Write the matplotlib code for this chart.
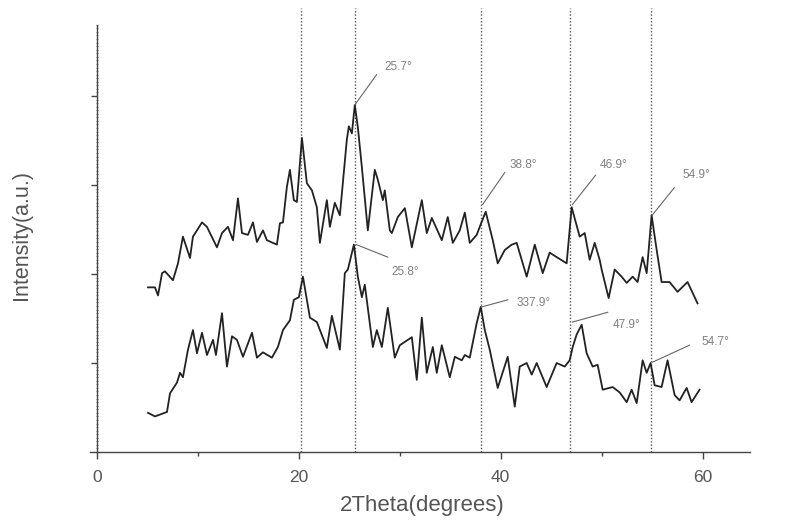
import matplotlib
matplotlib.use("Agg")
import matplotlib.pyplot as plt
import numpy as np
from matplotlib.ticker import MultipleLocator, FixedLocator

# upper pattern
top_x = [5.05, 5.74, 6.04, 6.44, 6.73, 7.52, 8.02, 8.51, 9.21, 9.50, 9.90, 10.40, 10.89,
         11.88, 12.38, 12.97, 13.47, 13.96, 14.36, 14.95, 15.45, 15.84, 16.44, 16.83,
         17.82, 18.12, 18.42, 18.81, 19.11, 19.50, 19.80, 20.30, 20.79, 21.29, 21.78,
         22.08, 22.77, 23.07, 23.56, 24.06, 24.75, 24.95, 25.25, 25.54, 25.84, 26.24,
         26.83, 27.52, 27.82, 28.32, 28.51, 29.01, 29.21, 29.80, 30.50, 31.19, 32.18,
         32.67, 33.17, 34.16, 34.75, 35.25, 35.94, 36.44, 36.93, 37.62, 37.92, 38.51,
         39.21, 39.70, 40.40, 41.09, 41.58, 42.57, 43.37, 44.16, 44.85, 45.54, 46.53,
         47.03, 47.82, 48.32, 48.81, 49.31, 49.80, 50.00, 50.69, 51.29, 51.98, 52.48,
         53.07, 53.56, 54.06, 54.46, 54.95, 55.45, 55.94, 56.73, 57.52, 58.51, 59.50]
top_y = [1.85, 1.85, 1.76, 2.01, 2.03, 1.93, 2.12, 2.42, 2.18, 2.42, 2.49, 2.58, 2.53,
         2.30, 2.46, 2.53, 2.38, 2.85, 2.46, 2.44, 2.58, 2.36, 2.49, 2.38,
         2.33, 2.57, 2.58, 2.98, 3.17, 2.83, 2.81, 3.53, 3.02, 2.94, 2.75,
         2.35, 2.83, 2.53, 2.80, 2.66, 3.51, 3.66, 3.58, 3.90, 3.65, 3.20,
         2.49, 3.17, 3.06, 2.83, 2.94, 2.49, 2.46, 2.64, 2.74, 2.30, 2.83,
         2.46, 2.63, 2.38, 2.64, 2.35, 2.49, 2.69, 2.35, 2.44, 2.53, 2.70,
         2.38, 2.12, 2.27, 2.33, 2.35, 1.97, 2.33, 2.01, 2.24, 2.19, 2.12,
         2.75, 2.42, 2.46, 2.16, 2.35, 2.16, 2.05, 1.73, 2.05, 1.97, 1.90,
         1.97, 1.91, 2.19, 2.01, 2.66, 2.27, 1.91, 1.91, 1.80, 1.91, 1.67]

# lower pattern
bot_x = [5.05, 5.74, 6.93, 7.23, 7.92, 8.22, 8.51, 9.01, 9.50, 9.90, 10.40, 10.89, 11.49,
         11.78, 12.38, 12.87, 13.37, 13.86, 14.46, 15.35, 15.84, 16.44, 17.33, 17.92,
         18.42, 19.11, 19.50, 20.00, 20.40, 21.09, 21.78, 22.77, 23.27, 24.06, 24.55,
         24.85, 25.45, 25.84, 26.24, 26.53, 27.33, 27.72, 28.22, 28.81, 29.50, 30.00,
         31.19, 31.68, 32.18, 32.67, 33.27, 33.66, 34.16, 34.95, 35.45, 36.14, 36.44,
         36.93, 37.62, 38.02, 38.42, 38.91, 39.70, 40.69, 41.39, 41.88, 42.57, 43.07,
         43.56, 44.55, 45.54, 46.34, 46.83, 47.13, 47.52, 48.02, 48.51, 49.11, 49.60,
         50.10, 51.09, 51.78, 52.48, 52.97, 53.47, 54.06, 54.46, 54.85, 55.25, 55.94,
         56.53, 57.23, 57.72, 58.42, 58.91, 59.70]
bot_y = [0.44, 0.40, 0.45, 0.66, 0.78, 0.89, 0.84, 1.15, 1.37, 1.11, 1.34, 1.09, 1.26,
         1.09, 1.56, 0.96, 1.30, 1.26, 1.07, 1.34, 1.06, 1.12, 1.06, 1.18,
         1.37, 1.48, 1.71, 1.74, 1.97, 1.51, 1.46, 1.17, 1.53, 1.15, 2.01,
         2.05, 2.33, 1.97, 1.74, 1.88, 1.18, 1.37, 1.18, 1.62, 1.06, 1.20,
         1.29, 0.81, 1.51, 0.89, 1.18, 0.89, 1.20, 0.84, 1.07, 1.03, 1.09,
         1.06, 1.45, 1.63, 1.37, 1.15, 0.72, 1.07, 0.51, 0.96, 1.00, 0.87,
         1.00, 0.73, 1.00, 0.96, 1.03, 1.18, 1.32, 1.43, 1.11, 0.96, 0.98,
         0.70, 0.73, 0.67, 0.56, 0.70, 0.55, 1.03, 0.89, 1.00, 0.75, 0.73,
         1.03, 0.64, 0.58, 0.72, 0.56, 0.70]

# reference lines
ref_lines = [20.2, 25.6, 38.0, 46.9, 54.9]

# peak labels: text, peak point, leader end, text position
labels = ["25.7°", "38.8°", "46.9°", "54.9°", "25.8°", "337.9°", "47.9°", "54.7°"]
peak_x = [25.54, 38.2, 47.1, 55.0, 25.7, 38.1, 47.1, 55.05]
peak_y = [3.90, 2.78, 2.78, 2.66, 2.33, 1.63, 1.46, 1.01]
lead_x = [27.7, 40.4, 49.4, 57.2, 28.8, 40.7, 50.6, 58.7]
lead_y = [4.24, 3.14, 3.11, 2.97, 2.19, 1.71, 1.57, 1.20]
text_x = [28.5, 40.9, 49.8, 58.0, 29.2, 41.6, 51.1, 59.9]
text_y = [4.33, 3.22, 3.22, 3.11, 2.02, 1.67, 1.43, 1.24]

y_top = 4.8

plt.rcParams["font.family"] = ["Liberation Sans", "DejaVu Sans"]

fig = plt.figure(figsize=(7.88, 5.24), dpi=100)
ax = fig.add_axes([0.1142, 0.1204, 0.8376, 0.8747])

for xv in ref_lines:
    ax.plot([xv, xv], [0, 4.99], color="#555555", lw=1.0, linestyle=(0, (1, 1.4)))

ax.plot(top_x, top_y, color="#222222", lw=1.3)
ax.plot(bot_x, bot_y, color="#222222", lw=1.3)

for i in range(len(labels)):
    ax.plot([peak_x[i], lead_x[i]], [peak_y[i], lead_y[i]], color="#666666", lw=0.8)
    ax.text(text_x[i], text_y[i], labels[i], fontsize=8.5, color="#808080",
            ha="left", va="center")

ax.set_xlim(-0.7, 64.7)
ax.set_ylim(-0.1, 5.05)

ax.spines["top"].set_visible(False)
ax.spines["right"].set_visible(False)
ax.spines["left"].set_position(("data", 0))
ax.spines["bottom"].set_position(("data", 0))
ax.spines["left"].set_bounds(0, y_top)
for s in ["left", "bottom"]:
    ax.spines[s].set_color("#444444")
    ax.spines[s].set_linewidth(1.0)

ax.xaxis.set_major_locator(MultipleLocator(20))
ax.xaxis.set_minor_locator(MultipleLocator(10))
ax.yaxis.set_major_locator(FixedLocator([1, 2, 3, 4]))
ax.yaxis.set_minor_locator(FixedLocator(np.arange(0, y_top + 0.001, 0.04)))
ax.tick_params(axis="x", which="major", direction="out", length=5, width=1,
               color="#444444", labelsize=12.5, labelcolor="#555555", pad=8)
ax.tick_params(axis="x", which="minor", direction="out", length=3, width=1, color="#444444")
ax.tick_params(axis="y", which="major", direction="out", length=4, width=1,
               color="#444444", labelleft=False)
ax.tick_params(axis="y", which="minor", direction="inout", length=2, width=0.5, color="#555555")

fig.text(22 / 788, 1 - 235 / 524, "Intensity(a.u.)", rotation=90, fontsize=15.5,
         color="#555555", ha="center", va="center")
fig.text(422 / 788, 1 - 505 / 524, "2Theta(degrees)", fontsize=16,
         color="#555555", ha="center", va="center")

fig.savefig("out.png", dpi=100)
